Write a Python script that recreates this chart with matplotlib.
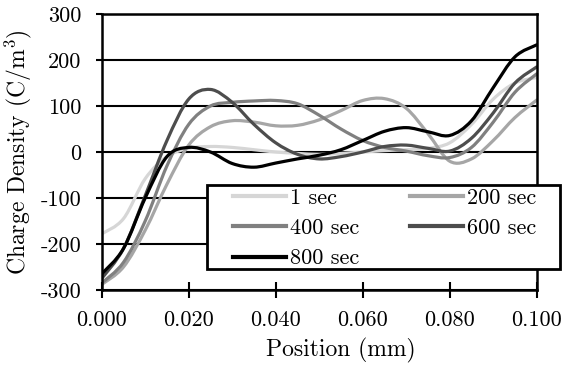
import matplotlib.pyplot as plt
import numpy as np
from matplotlib.path import Path
from matplotlib.patches import PathPatch, Rectangle
from matplotlib.lines import Line2D

plt.rcParams['font.family'] = ['cmr10', 'DejaVu Serif']
plt.rcParams['mathtext.fontset'] = 'cm'
plt.rcParams['axes.unicode_minus'] = False
plt.rcParams['axes.formatter.use_mathtext'] = True

# position along the sample (mm)
position = [0.000, 0.005, 0.010, 0.015, 0.020, 0.025, 0.030, 0.035, 0.040, 0.045,
            0.050, 0.055, 0.060, 0.065, 0.070, 0.075, 0.080, 0.085, 0.090, 0.095, 0.100]

# charge density (C/m^3) at each time step
rho_1 = [-178, -145, -58, -10, 8, 12, 10, 5, 0, -3,
         -5, -3, 0, 3, 5, 8, 20, 60, 115, 150, 162]
rho_200 = [-288, -250, -170, -70, 15, 55, 68, 65, 57, 58,
           70, 90, 112, 116, 95, 40, -20, -15, 25, 75, 113]
rho_400 = [-285, -240, -150, -30, 60, 100, 108, 111, 112, 105,
           80, 50, 25, 10, 2, -8, -12, 10, 65, 130, 170]
rho_600 = [-275, -210, -95, 25, 115, 136, 108, 60, 20, -5,
           -15, -10, 0, 12, 15, 8, 2, 30, 85, 150, 185]
rho_800 = [-265, -210, -100, -10, 10, 0, -25, -33, -24, -15,
           -7, 5, 25, 45, 53, 44, 36, 68, 140, 207, 233]

labels = ['1 sec', '200 sec', '400 sec', '600 sec', '800 sec']
series = [rho_1, rho_200, rho_400, rho_600, rho_800]
colors = ['#d6d6d6', '#a6a6a6', '#808080', '#4d4d4d', '#000000']

x_ticks = [0.000, 0.020, 0.040, 0.060, 0.080, 0.100]
x_ticklabels = ['0.000', '0.020', '0.040', '0.060', '0.080', '0.100']
y_ticks = [-300, -200, -100, 0, 100, 200, 300]
y_ticklabels = ['-300', '-200', '-100', '0', '100', '200', '300']


def smooth_path(x, y, k=1.0 / 6):
    """Bezier path through the points (smoothed line, spreadsheet style)."""
    pts = np.column_stack([x, y]).astype(float)
    n = len(pts)
    verts = [pts[0]]
    codes = [Path.MOVETO]
    for i in range(n - 1):
        p0 = pts[max(i - 1, 0)]
        p1 = pts[i]
        p2 = pts[i + 1]
        p3 = pts[min(i + 2, n - 1)]
        verts += [p1 + (p2 - p0) * k, p2 - (p3 - p1) * k, p2]
        codes += [Path.CURVE4] * 3
    return Path(verts, codes)


fig = plt.figure(figsize=(5.65, 3.67), dpi=100)
ax = fig.add_axes([0.180, 0.2098, 0.770, 0.752])

for rho, c in zip(series, colors):
    ax.add_patch(PathPatch(smooth_path(position, rho), fill=False, edgecolor=c,
                           lw=2.3, capstyle='round', joinstyle='round', zorder=3))

ax.set_xlim(0, 0.1)
ax.set_ylim(-300, 300)
ax.set_xticks(x_ticks)
ax.set_xticklabels(x_ticklabels)
ax.set_yticks(y_ticks)
ax.set_yticklabels(y_ticklabels)
ax.tick_params(axis='both', labelsize=16)
ax.tick_params(axis='y', direction='out', length=4.5, width=1.5, pad=10)
ax.tick_params(axis='x', direction='inout', length=11, width=1.5, pad=9)

ax.yaxis.grid(True, color='black', lw=1.5, zorder=1)
ax.set_axisbelow(True)
for side in ['left', 'right', 'top', 'bottom']:
    ax.spines[side].set_linewidth(1.8)
    ax.spines[side].set_zorder(4)

ax.set_xlabel('Position (mm)', fontsize=17)
ax.xaxis.set_label_coords(0.55, -0.172)
ax.set_ylabel('Charge Density (C/m$^{3}$)', fontsize=17)
ax.yaxis.set_label_coords(-0.155, 0.5)

# legend box, spilling past the right edge of the plot
ax.add_patch(Rectangle((0.242, 0.076), 0.811, 0.304, transform=ax.transAxes,
                       facecolor='white', edgecolor='black', lw=2,
                       clip_on=False, zorder=5))
order = [0, 2, 4, 1, 3]
handles = [Line2D([], [], color=colors[i], lw=3) for i in order]
leg = ax.legend(handles, [labels[i] for i in order], ncol=2, loc='upper left',
                bbox_to_anchor=(0.3016, 0.368), frameon=False, fontsize=16,
                borderpad=0, borderaxespad=0, handlelength=2.4,
                handletextpad=0.15, columnspacing=2.3, labelspacing=0.48)
leg.set_zorder(6)

fig.savefig('out.png', dpi=100)
